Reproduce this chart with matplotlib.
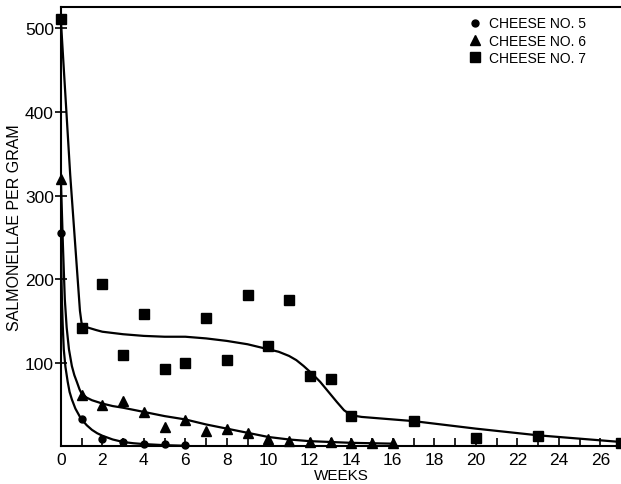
import matplotlib.pyplot as plt

# observed points
weeks5 = [0, 1, 2, 3, 4, 5, 6]
cheese5 = [255, 32, 8, 5, 3, 2, 1]

weeks6 = [0, 1, 2, 3, 4, 5, 6, 7, 8, 9, 10, 11, 12, 13, 14, 15, 16]
cheese6 = [320, 61, 49, 54, 41, 23, 31, 18, 20, 16, 8, 6, 5, 5, 4, 4, 4]

weeks7 = [0, 1, 2, 3, 4, 5, 6, 7, 8, 9, 10, 11, 12, 13, 14, 17, 20, 23, 27]
cheese7 = [511, 142, 194, 109, 158, 92, 99, 153, 103, 181, 120, 175, 84, 80, 36, 30, 10, 12, 4]

# hand-drawn curves
curve5_x = [0, 0.02, 0.05, 0.09, 0.14, 0.22, 0.33, 0.42, 0.53, 0.7, 0.9, 1, 1.25, 1.5, 1.75, 2,
            2.5, 3, 3.5, 4, 5, 6]
curve5_y = [255, 215, 176, 145, 116, 95, 77, 65, 56, 45, 36, 32, 25, 19.5, 15.5, 12.5,
            8, 5, 3.5, 2.5, 1.2, 0.5]

curve6_x = [0, 0.05, 0.1, 0.19, 0.28, 0.39, 0.53, 0.65, 0.77, 0.9, 1, 1.25, 1.5, 2, 2.5, 3, 4,
            5, 6, 7, 8, 9, 10, 11, 12, 13, 14, 16]
curve6_y = [320, 280, 240, 176, 142, 116, 96, 85, 77, 68, 63, 58, 55, 51, 48, 46, 41,
            36, 32, 26, 21, 16, 11, 8, 6, 5, 4, 3]

curve7_x = [0, 0.45, 0.92, 1, 1.3, 1.7, 2, 3, 4, 5, 6, 7, 8, 9, 10, 10.5, 11, 11.35, 11.7,
            12.1, 12.5, 12.9, 13.3, 13.65, 14, 14.5, 15, 17, 20, 23, 27]
curve7_y = [510, 325, 162, 147, 142, 139, 137, 134, 132, 131, 131, 129, 126, 122, 116, 113,
            108, 103, 96, 87, 77, 65, 53, 43, 37, 35, 34, 30, 21, 13, 5]

xticks = list(range(0, 27, 2))
yticks = [100, 200, 300, 400, 500]

plt.rcParams['font.family'] = ['Liberation Sans', 'DejaVu Sans']

fig = plt.figure(figsize=(6.21, 4.85), dpi=100)
ax = fig.add_axes([0.098, 0.078, 0.902, 0.906])

lw = 1.6
for cx, cy in [(curve5_x, curve5_y), (curve6_x, curve6_y), (curve7_x, curve7_y)]:
    ax.plot(cx, cy, color='black', lw=lw, solid_joinstyle='round')

ax.plot(weeks5, cheese5, 'o', color='black', ms=5, clip_on=False, label='CHEESE NO. 5')
ax.plot(weeks6, cheese6, '^', color='black', ms=7, clip_on=False, label='CHEESE NO. 6')
ax.plot(weeks7, cheese7, 's', color='black', ms=6.5, clip_on=False, label='CHEESE NO. 7')

ax.set_xlim(0, 27)
ax.set_ylim(0, 526)
ax.set_xticks(xticks)
ax.set_xticks(range(0, 27), minor=True)
ax.set_yticks(yticks)
ax.tick_params(axis='x', direction='in', length=6, width=1.2, labelsize=12.5, pad=4)
ax.tick_params(axis='x', which='minor', direction='in', length=6, width=1.2)
ax.tick_params(axis='y', direction='inout', length=8, width=1.2, labelsize=12.5, pad=1)

ax.spines['right'].set_visible(False)
for s in ['left', 'bottom', 'top']:
    ax.spines[s].set_linewidth(1.5)

ax.set_xlabel('WEEKS', fontsize=11, labelpad=1)
ax.set_ylabel('SALMONELLAE PER GRAM', fontsize=11.5, labelpad=2)

ax.legend(loc='upper right', bbox_to_anchor=(0.955, 1.0), frameon=False, fontsize=10,
          handletextpad=0.5, labelspacing=0.22, handlelength=1.0, numpoints=1,
          borderaxespad=0.3)

fig.savefig('out.png', dpi=100)
